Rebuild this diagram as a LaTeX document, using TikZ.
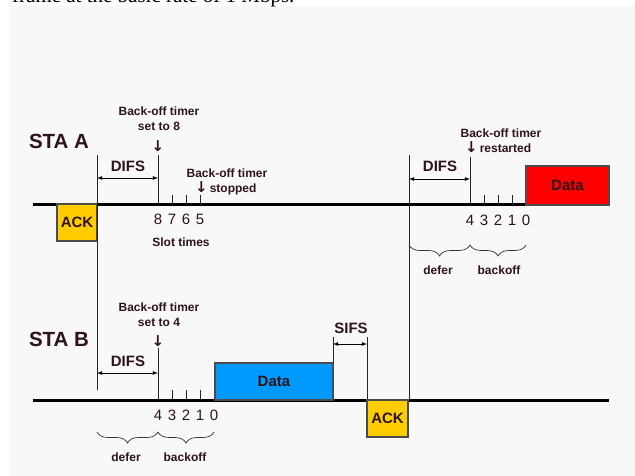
\documentclass[tikz,border=0pt]{standalone}
\usepackage{fontspec}
\setmainfont{Liberation Sans}
\newfontfamily\serifpart{Liberation Serif}
\newfontfamily\arrowfont{DejaVu Sans}
\usetikzlibrary{decorations.pathreplacing}
\definecolor{txt}{RGB}{46,20,22}
\definecolor{paper}{RGB}{248,248,248}
\definecolor{ackyellow}{RGB}{255,204,0}
\definecolor{datared}{RGB}{255,0,0}
\definecolor{datablue}{RGB}{0,153,255}
\newcommand{\downmark}{{\arrowfont\bfseries\fontsize{15}{15}\selectfont ↓}}
\begin{document}
\begin{tikzpicture}[x=1pt, y=-1pt,
		every node/.style = {text=txt, align=center, inner sep=0pt,
			font=\bfseries\fontsize{12}{15}\selectfont},
		station/.style = {font=\bfseries\fontsize{20.5}{22}\selectfont},
		gap/.style = {font=\bfseries\fontsize{15}{17}\selectfont},
		slot/.style = {font=\fontsize{15}{17}\selectfont},
		frame/.style = {draw=black!70, line width=1.2pt, minimum height=37pt,
			font=\bfseries\fontsize{15}{17}\selectfont},
		timeline/.style = {line width=3pt},
		marker/.style = {draw=black!85, line width=0.8pt},
		span/.style = {<->, >=latex, line width=0.8pt},
		brace/.style = {decorate, decoration={brace, amplitude=11pt, mirror},
			line width=0.7pt, draw=black!80}]
	\useasboundingbox (0,0) rectangle (635,476);
	\clip (0,0) rectangle (635,476);
	\fill[paper] (10,6) rectangle (635,476);
	\node[anchor=base west, text=black, font=\serifpart\fontsize{21}{23}\selectfont]
		(caption) at (12,3) {frame at the basic rate of 1 Mbps.};

	% station A
	\node[station] (staA) at (59,141) {STA A};
	\draw[timeline] (33,205) coordinate (a0) -- (609,205) coordinate (a1);
	\node[frame, fill=ackyellow, minimum width=40pt] (ackA) at (77,222.5) {ACK};
	\draw[marker] (97,155) -- (97,390);
	\draw[marker] (158,155) -- (158,205);
	\draw[span] (97,178) coordinate (difsA0) -- (158,178) coordinate (difsA1);
	\node[gap] (difsAl) at (128,166) {DIFS};
	\node (setA) at (159,119) {Back-off timer\\set to 8};
	\node (setAarr) at (158,146) {\downmark};
	\foreach \x/\n in {158/8,172/7,186/6,200/5} {
		\draw[marker] (\x,195) -- (\x,205);
		\node[slot] (slotA\n) at (\x,219) {\n};
	}
	\node (stopA) at (227,173) {Back-off timer};
	\node[anchor=west] (stopAl) at (195,188) {\downmark\,stopped};
	\node (slotsA) at (181,242) {Slot times};

	\draw[marker] (409,155) -- (409,400);
	\draw[marker] (470,157) -- (470,205);
	\draw[span] (409,179) coordinate (difsA20) -- (470,179) coordinate (difsA21);
	\node[gap] (difsA2l) at (440,166) {DIFS};
	\node (restartA) at (501,133) {Back-off timer};
	\node[anchor=west] (restartAl) at (465,147) {\downmark\,restarted};
	\foreach \x/\n in {470/4,484/3,498/2,512/1,526/0} {
		\draw[marker] (\x,195) -- (\x,205);
		\node[slot] (slotAA\n) at (\x,220) {\n};
	}
	\node[frame, fill=datared, minimum width=83pt, minimum height=39pt] (dataA) at (567.5,185.5) {Data};
	\draw[brace] (409,245) -- (470,245);
	\draw[brace] (470,245) -- (526,245);
	\node (deferA) at (438,270) {defer};
	\node (backoffA) at (499,270) {backoff};

	% station B
	\node[station] (staB) at (59,339) {STA B};
	\draw[timeline] (33,400) coordinate (b0) -- (609,400) coordinate (b1);
	\draw[marker] (158,348) -- (158,400);
	\draw[span] (97,373) coordinate (difsB0) -- (158,373) coordinate (difsB1);
	\node[gap] (difsBl) at (128,361) {DIFS};
	\node (setB) at (159,315) {Back-off timer\\set to 4};
	\node (setBarr) at (158,341) {\downmark};
	\foreach \x/\n in {158/4,172/3,186/2,200/1,214/0} {
		\draw[marker] (\x,390) -- (\x,400);
		\node[slot] (slotB\n) at (\x,415) {\n};
	}
	\node[frame, fill=datablue, minimum width=118pt] (dataB) at (274,381.5) {Data};
	\draw[marker] (333,337) -- (333,363);
	\draw[marker] (367,337) -- (367,400);
	\draw[span] (333,344) coordinate (sifs0) -- (367,344) coordinate (sifs1);
	\node[gap] (sifsl) at (351,328) {SIFS};
	\node[frame, fill=ackyellow, minimum width=41pt] (ackB) at (387.5,418.5) {ACK};
	\draw[brace] (97,432) -- (158,432);
	\draw[brace] (158,432) -- (214,432);
	\node (deferB) at (126,457) {defer};
	\node (backoffB) at (185,457) {backoff};
\end{tikzpicture}
\end{document}
